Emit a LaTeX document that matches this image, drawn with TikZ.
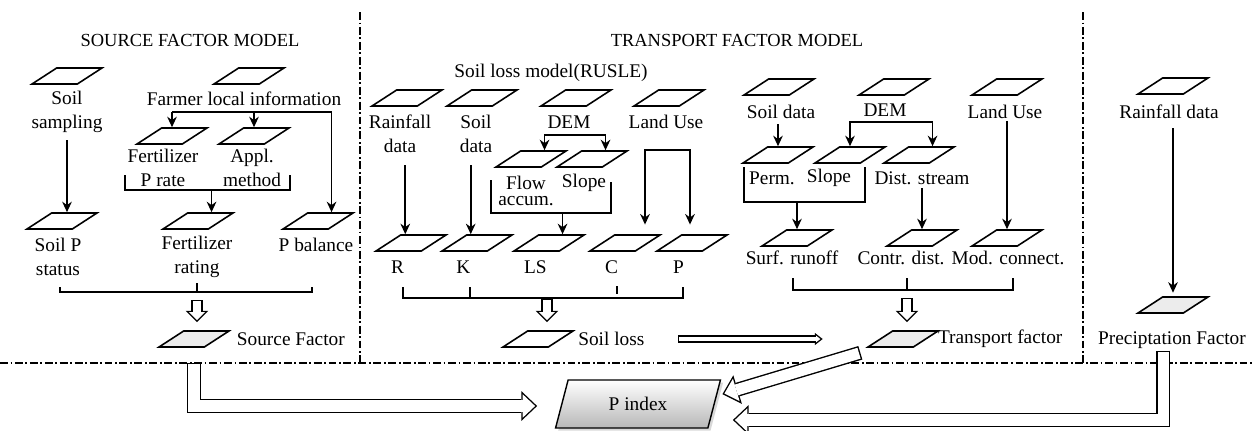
\documentclass[tikz,border=0pt]{standalone}
\usepackage{fontspec}
\setmainfont{Liberation Serif}
\usetikzlibrary{arrows.meta, shapes.geometric, positioning, calc, shadows}

\newcommand{\lblfont}{\fontsize{11}{13.5}\selectfont}
\tikzset{
  para/.style={trapezium, trapezium left angle=40, trapezium right angle=140,
    trapezium stretches=true, draw, line width=0.9pt, fill=white,
    minimum width=1.4cm, minimum height=0.32cm, inner sep=1pt},
  factor/.style={para, fill=gray!15},
  lbl/.style={font=\lblfont, align=center, inner sep=1pt},
  modeltitle/.style={font=\fontsize{10.5}{12}\selectfont, inner sep=0pt},
  arr/.style={-{Stealth[length=6pt, width=5.5pt]}, line width=0.9pt},
  fork/.style={{Stealth[length=6pt, width=5.5pt]}-{Stealth[length=6pt, width=5.5pt]}, line width=0.9pt},
  brk/.style={line width=0.9pt},
  % hollow block arrows: black outline, white body
  hbig/.style={line width=8pt, -{Triangle[length=9pt, width=17pt, line width=0pt]},
    postaction={draw=white, line width=6.4pt, shorten <=0.8pt, shorten >=1.16pt,
      -{Triangle[length=7.04pt, width=13.3pt, line width=0pt]}}},
  hdown/.style={line width=6.5pt, -{Triangle[length=6.5pt, width=13pt, line width=0pt]},
    postaction={draw=white, line width=4.9pt, shorten <=0.8pt, shorten >=1.13pt,
      -{Triangle[length=4.57pt, width=9.14pt, line width=0pt]}}},
  hthin/.style={line width=4pt, -{Triangle[length=4.5pt, width=7pt, line width=0pt]},
    postaction={draw=white, line width=2.4pt, shorten <=0.8pt, shorten >=1.3pt,
      -{Triangle[length=2.4pt, width=3.73pt, line width=0pt]}}},
  divider/.style={line width=0.6pt, dash pattern=on 4.5pt off 1.5pt on 1pt off 1.5pt},
  pindex/.style={trapezium, trapezium left angle=76, trapezium right angle=104,
    trapezium stretches=true, draw, line width=0.8pt,
    minimum width=3.3cm, minimum height=0.96cm, top color=white, bottom color=black!28,
    drop shadow={opacity=0.3, shadow xshift=1.5pt, shadow yshift=-1.5pt}, font=\lblfont}
}

\begin{document}
\begin{tikzpicture}[x=0.02cm, y=-0.02cm]
  \fill[white] (0,0) rectangle (1252,430);
  \useasboundingbox (0,0) rectangle (1252,430);

  % dividers
  \coordinate (hl) at (0,363);
  \draw[divider] (hl) -- (1252,363);
  \draw[divider] (360,12) -- (360,363);
  \draw[divider] (1083,12) -- (1083,363);

  \node[modeltitle] (t_src) at (190,40) {SOURCE FACTOR MODEL};
  \node[modeltitle] (t_trn) at (737,40) {TRANSPORT FACTOR MODEL};

  % source factor
  \node[para] (ss) at (67,76) {};
  \node[lbl] (ss_t) at (67,112) {Soil\\sampling};
  \node[para] (fl) at (249,76) {};
  \node[lbl] (fl_t) at (244,99) {Farmer local information};
  \node[para] (fr) at (172,136) {};
  \node[lbl] (fr_t) at (163,168) {Fertilizer\\P rate};
  \node[para] (am) at (254,136) {};
  \node[lbl] (am_t) at (252,168) {Appl.\\method};
  \node[para] (sp) at (62,221) {};
  \node[lbl] (sp_t) at (58,257) {Soil P\\status};
  \node[para] (fg) at (198,221) {};
  \node[lbl] (fg_t) at (197,257) {Fertilizer\\rating};
  \node[para] (pb) at (318,221) {};
  \node[lbl] (pb_t) at (316,245) {P balance};
  \node[factor] (sf) at (194,339) {};
  \node[lbl, right=9.5pt of sf] (sf_t) {Source Factor};

  \draw[arr, shorten <=3pt] (ss_t.south) -- (ss_t.south |- sp.north);
  \coordinate (fl_j) at (244,112);
  \draw[arr] (fl_j -| fr.north) -- (fr.north);
  \draw[arr] (fl_j -| am.north) -- (am.north);
  \draw[arr] (fl_j -| fr.north) -| (pb.top side);
  \coordinate (b1l) at (125,175);
  \coordinate (b1b) at (125,190);
  \coordinate (b1r) at (290,175);
  \draw[brk] (b1l) -- (b1b) -| (b1r);
  \draw[arr] (fg.top side |- b1b) -- (fg.top side);
  \coordinate (b2l) at (60,287);
  \coordinate (b2b) at (60,292);
  \coordinate (b2r) at (312,287);
  \coordinate (b2m) at (197,300);
  \coordinate (sf_in) at ($(sf.north)+(0,-8)$);
  \draw[brk] (b2l) -- (b2b) -| (b2r);
  \draw[brk] (b2m |- b2b) -- ++(0,-9);
  \draw[hdown] (b2m) -- (b2m |- sf_in);

  % transport factor: soil loss
  \node[lbl] (rusle) at (551,73) {Soil loss model(RUSLE)};
  \node[para] (rf) at (407,98) {};
  \node[para] (sd) at (482,98) {};
  \node[para] (dm) at (576,98) {};
  \node[para] (lu) at (669,98) {};
  \node[lbl] (rf_t) at (400,134) {Rainfall\\data};
  \node[lbl] (sd_t) at (476,134) {Soil\\data};
  \node[lbl] (dm_t) at (569,122) {DEM};
  \node[lbl] (lu_t) at (666,122) {Land Use};
  \node[para] (fa) at (531,159) {};
  \node[para] (slp) at (592,159) {};
  \node[lbl] (fa_t) at (526,191) {Flow\\[-4pt]accum.};
  \node[lbl] (slp_t) at (584,183) {Slope};
  \foreach \n/\x/\t in {r/411/R, k/477/K, ls/549/LS, c/625/C, p/692/P}{
    \node[para] (\n) at (\x,243) {};
    \node[lbl, below=4pt of \n.bottom side] (\n_t) {\t};
  }
  \node[para] (sl) at (538,339) {};
  \node[lbl, right=8pt of sl] (sl_t) {Soil loss};

  \draw[arr, shorten <=6pt] ([xshift=3pt]rf_t.south) -- ([xshift=3pt]rf_t.south |- r.north);
  \draw[arr, shorten <=6pt] ([xshift=-3pt]sd_t.south) -- ([xshift=-3pt]sd_t.south |- k.north);
  \coordinate (dm_j) at (570,135);
  \draw[fork] (fa.top side) |- (dm_j) -| (slp.top side);
  \coordinate (ls_l) at (491,180);
  \coordinate (ls_b) at (491,213);
  \coordinate (ls_r) at (611,182);
  \draw[brk] (ls_l) -- (ls_b) -| (ls_r);
  \draw[arr] (ls.top side |- ls_b) -- (ls.top side);
  \coordinate (lu_a) at (645,150);
  \coordinate (lu_b) at (690,150);
  \draw[fork, shorten <=5.5pt, shorten >=5.5pt] (lu_a |- c.north) -- (lu_a) -- (lu_b) -- (lu_b |- p.north);
  \coordinate (b3l) at (403,287);
  \coordinate (b3b) at (403,298);
  \coordinate (b3r) at (683,287);
  \coordinate (b3m) at (547,299);
  \coordinate (sl_in) at ($(sl.north)+(0,-8)$);
  \draw[brk] (b3l) -- (b3b) -| (b3r);
  \draw[brk] (470,287) -- (470,298);
  \draw[brk] (617,286) -- (617,294);
  \draw[hdown] (b3m) -- (b3m |- sl_in);

  % transport factor: connectivity
  \node[para] (sd2) at (779,87) {};
  \node[para] (dm2) at (894,87) {};
  \node[para] (lu2) at (1007,87) {};
  \node[lbl] (sd2_t) at (781,112) {Soil data};
  \node[lbl] (dm2_t) at (885,110) {DEM};
  \node[lbl] (lu2_t) at (1005,112) {Land Use};
  \node[para] (pe) at (778,155) {};
  \node[para] (sl2) at (850,155) {};
  \node[para] (ds) at (919,155) {};
  \node[lbl] (pe_t) at (772,178) {Perm.};
  \node[lbl] (sl2_t) at (829,178) {Slope};
  \node[lbl] (ds_t) at (922,178) {Dist. stream};
  \node[para] (su) at (797,238) {};
  \node[para] (ct) at (922,238) {};
  \node[para] (mc) at (1007,238) {};
  \node[lbl] (su_t) at (792,258) {Surf. runoff};
  \node[lbl] (ct_t) at (901,258) {Contr. dist.};
  \node[lbl] (mc_t) at (1008,258) {Mod. connect.};
  \node[factor] (tf) at (903,339) {};
  \node[lbl, right=5pt of tf] (tf_t) {Transport factor};

  \draw[arr, shorten <=2pt] (sd2_t.south -| pe.north) -- (pe.north);
  \coordinate (dm2_j) at (885,122);
  \draw[fork] (sl2.north) |- (dm2_j) -| (ds.top side);
  \coordinate (b4l) at (744,167);
  \coordinate (b4b) at (744,202);
  \coordinate (b4r) at (865,167);
  \draw[brk] (b4l) -- (b4b) -| (b4r);
  \draw[arr] (su.north |- b4b) -- (su.north);
  \draw[arr, shorten <=1pt] (ds_t.south -| ct.north) -- (ct.north);
  \draw[arr] (lu2_t.south -| mc.north) -- (mc.north);
  \coordinate (b5l) at (793,278);
  \coordinate (b5b) at (793,290);
  \coordinate (b5r) at (1013,278);
  \coordinate (b5m) at (907,298);
  \coordinate (tf_in) at ($(tf.north)+(0,-8)$);
  \draw[brk] (b5l) -- (b5b) -| (b5r);
  \draw[brk] (b5m |- b5b) -- (b5m |- b5l);
  \draw[hdown] (b5m) -- (b5m |- tf_in);
  \draw[hthin] ([xshift=18pt]sl_t.east) -- ([xshift=-32pt]tf.west);

  % precipitation
  \node[para] (rd) at (1173,86) {};
  \node[lbl] (rd_t) at (1169,112) {Rainfall data};
  \node[factor] (pf) at (1173,305) {};
  \node[lbl] (pf_t) at (1172,340) {Preciptation Factor};
  \draw[arr, shorten <=4pt, shorten >=2pt] (rd_t.south -| pf.north) -- (pf.north);

  % P index
  \node[pindex] (pi) at (638,404) {P index};
  \coordinate (pi_l) at ($(pi.left side)+(-24,2)$);
  \coordinate (pi_r) at ($(pi.right side)+(18,16)$);
  \coordinate (pi_tr) at ($(pi.top right corner)!.3!(pi.bottom right corner)+(5,0)$);
  \coordinate (tf_out) at ($(tf.bottom left corner)+(-5,5)$);
  \draw[hbig] (sf.south |- hl) |- (pi_l);
  \draw[hbig] (tf_out) -- (pi_tr);
  \draw[hbig] ([xshift=-5pt]pf_t.south) |- (pi_r);
\end{tikzpicture}
\end{document}
